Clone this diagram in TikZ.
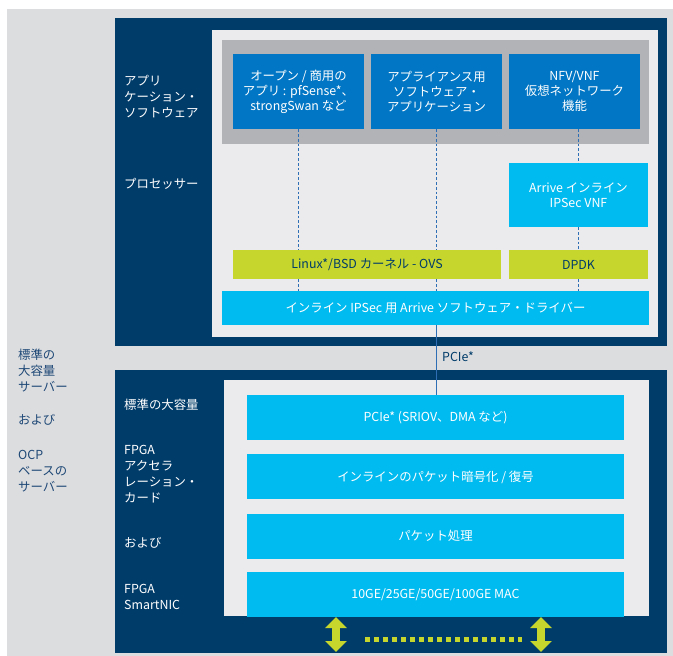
\documentclass[tikz,border=0pt]{standalone}
\usepackage{fontspec}
\newfontfamily\jpfont{Noto Sans CJK JP}
\usepackage{tikz}
\usetikzlibrary{arrows.meta,positioning}
\usepackage{xcolor}
\definecolor{dfnavy}{RGB}{0,60,106}
\definecolor{dfbg}{RGB}{220,221,223}
\definecolor{dfpanel}{RGB}{235,235,238}
\definecolor{dfgray}{RGB}{177,179,182}
\definecolor{dfblue}{RGB}{0,118,196}
\definecolor{dfcyan}{RGB}{0,187,240}
\definecolor{dflime}{RGB}{198,214,44}
\definecolor{dftext}{RGB}{30,72,118}
\definecolor{dfdot}{RGB}{45,110,180}
\tikzstyle{jp} = [font=\jpfont\fontsize{12.4}{16}\selectfont]
\tikzstyle{lbl} = [jp, anchor=west, align=left, inner sep=0pt, text=white]
\tikzstyle{sidelbl} = [lbl, text=dftext]
\tikzstyle{appbox} = [rectangle, minimum width=131pt, minimum height=75pt, inner sep=0pt, align=center, fill=dfblue, text=white, font=\jpfont\fontsize{12.4}{15}\selectfont]
\tikzstyle{cyanbox} = [rectangle, minimum height=45pt, inner sep=0pt, align=center, fill=dfcyan, text=white, font=\jpfont\fontsize{12.4}{15}\selectfont]
\tikzstyle{limebox} = [jp, rectangle, minimum height=29pt, inner sep=0pt, fill=dflime, text=dfnavy]
\tikzstyle{dotline} = [draw=dfdot, line width=1.5pt, dash pattern=on 2.8pt off 2pt]
\tikzstyle{pcieline} = [draw=dfdot, line width=1.4pt]
\tikzstyle{linkarrow} = [line width=8pt, draw=dflime, {Triangle[width=21pt,length=11pt]}-{Triangle[width=21pt,length=11pt]}]

\begin{document}
\begin{tikzpicture}[x=1pt, y=-1pt]
\useasboundingbox (0,0) rectangle (673,656);
% Backgrounds
\fill[dfbg] (7,9) rectangle (673,656);
\fill[dfnavy] (115,18) rectangle (667,346);
\fill[dfpanel] (212,30) rectangle (658,337);
\fill[dfgray] (222,40) rectangle (649,144);
\fill[dfnavy] (115,370) rectangle (667,653);
\fill[dfpanel] (224,380) rectangle (649,616);

% Host side
\node (app1) [appbox] at (298.5,91.5) {オープン / 商用の\\アプリ : pfSense*、\\strongSwan など};
\node (app2) [appbox] at (436.5,91.5) {アプライアンス用\\ソフトウェア・\\アプリケーション};
\node (app3) [appbox] at (574.5,91.5) {NFV/VNF\\仮想ネットワーク\\機能};
\node (vnf) [cyanbox, minimum width=139pt, minimum height=64pt] at (578.5,195) {Arrive インライン\\IPSec VNF};
\node (kernel) [limebox, minimum width=268pt] at (367,264.5) {Linux*/BSD カーネル - OVS};
\node (dpdk) [limebox, minimum width=139pt] at (578.5,264.5) {DPDK};
\node (driver) [cyanbox, minimum width=427pt, minimum height=34pt] at (435.5,308) {インライン IPSec 用 Arrive ソフトウェア・ドライバー};

\draw[dotline] (app1.south) -- (app1.south |- kernel.north);
\draw[dotline] (app1.south |- kernel.south) -- (app1.south |- driver.north);
\draw[dotline] (app2.south) -- (app2.south |- kernel.north);
\draw[dotline] (app2.south |- kernel.south) -- (app2.south |- driver.north);
\draw[dotline] (vnf.north |- app3.south) -- (vnf.north);
\draw[dotline] (vnf.south) -- (dpdk.north);
\draw[dotline] (dpdk.south) -- (dpdk.south |- driver.north);

% FPGA card
\node (pcie) [cyanbox, minimum width=377pt] at (435.5,417.5) {PCIe* (SRIOV、DMA など)};
\node (crypto) [cyanbox, minimum width=377pt, below=14pt of pcie] {インラインのパケット暗号化 / 復号};
\node (pkt) [cyanbox, minimum width=377pt, below=14pt of crypto] {パケット処理};
\node (mac) [cyanbox, minimum width=377pt, below=13pt of pkt] {10GE/25GE/50GE/100GE MAC};

\draw[pcieline] (app2.south |- driver.south) -- node[jp, right, text=dfnavy, inner sep=5pt, pos=0.45] {PCIe*} (app2.south |- pcie.north);

% Ports
\coordinate (porta1) at (336,617);
\coordinate (porta2) at (336,652);
\coordinate (portb1) at (541,617);
\coordinate (portb2) at (541,652);
\coordinate (linka) at (365,639);
\coordinate (linkb) at (522,639);
\draw[linkarrow] (porta1) -- (porta2);
\draw[linkarrow] (portb1) -- (portb2);
\draw[draw=dflime, line width=5pt, dash pattern=on 5pt off 4pt] (linka) -- (linkb);

% Labels
\node (lblapp) [lbl] at (124,97) {アプリ\\ケーション・\\ソフトウェア};
\node (lblcpu) [lbl] at (124,184) {プロセッサー};
\node (lblstd) [lbl] at (124,405) {標準の大容量};
\node (lblfpga) [lbl] at (124,474) {FPGA\\アクセラ\\レーション・\\カード};
\node (lbland) [lbl] at (124,543) {および};
\node (lblnic) [lbl] at (124,597) {FPGA\\SmartNIC};
\node (srvstd) [sidelbl] at (18,371) {標準の\\大容量\\サーバー};
\node (srvand) [sidelbl] at (18,420) {および};
\node (srvocp) [sidelbl] at (18,471) {OCP\\ベースの\\サーバー};
\end{tikzpicture}
\end{document}
